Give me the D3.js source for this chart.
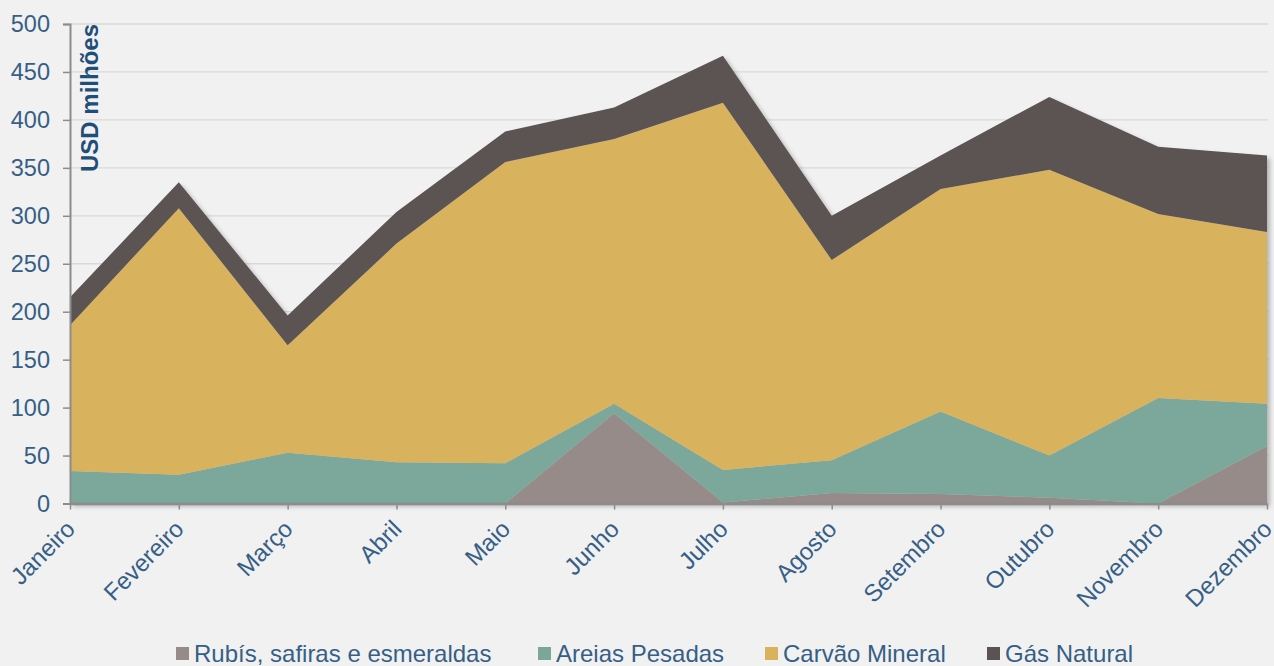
<!DOCTYPE html>
<html><head><meta charset="utf-8">
<script src="https://cdn.jsdelivr.net/npm/d3@7"></script>
<style>
body{margin:0;background:#f1f1f1;}
svg{display:block;font-family:"Liberation Sans",Arial,sans-serif;}
</style></head>
<body><svg id="c" width="1274" height="666"></svg>
<script>
const months = ["Janeiro","Fevereiro","Março","Abril","Maio","Junho","Julho","Agosto","Setembro","Outubro","Novembro","Dezembro"];
const seriesNames = ["Rubís, safiras e esmeraldas","Areias Pesadas","Carvão Mineral","Gás Natural"];
const rubis  = [0, 0, 0, 0, 0, 94, 1, 11, 10, 6, 0, 60];
const areias = [34, 30, 53, 43, 42, 10, 34, 34, 86, 44, 110, 44];
const carvao = [152, 278, 112, 228, 314, 276, 383, 209, 232, 298, 192, 179];
const gas    = [29, 27, 31, 33, 32, 33, 49, 46, 35, 76, 70, 80];
const yTicks = [0,50,100,150,200,250,300,350,400,450,500];
const colors = ["#968b89","#7ba79b","#d8b25c","#5b5253"];
const textColor = "#365f86";

const svg = d3.select("#c");
const mLeft = 70, mRight = 1267, mTop = 24, mBottom = 503.5;
const x = d3.scalePoint().domain(months).range([mLeft, mRight]);
const y = d3.scaleLinear().domain([0,500]).range([mBottom, mTop]);

const rows = months.map((m,i)=>({m, k0:rubis[i], k1:areias[i], k2:carvao[i], k3:gas[i]}));
const stack = d3.stack().keys(["k0","k1","k2","k3"])(rows);

const defs = svg.append("defs");
const f = defs.append("filter").attr("id","sh").attr("x","-5%").attr("y","-5%").attr("width","110%").attr("height","110%");
f.append("feDropShadow").attr("dx",3).attr("dy",3).attr("stdDeviation",2).attr("flood-color","#000").attr("flood-opacity",0.25);

// gridlines
svg.append("g").selectAll("line").data(yTicks.filter(d=>d>0)).join("line")
  .attr("x1",mLeft).attr("x2",1268).attr("y1",d=>y(d)).attr("y2",d=>y(d))
  .attr("stroke","#d9d9d9").attr("stroke-width",1.3);

const area = d3.area().x(d=>x(d.data.m)).y0(d=>y(d[0])).y1(d=>y(d[1]));
svg.append("g").attr("filter","url(#sh)").selectAll("path").data(stack).join("path")
  .attr("d",area).attr("fill",(d,i)=>colors[i]);

// y axis
const ya = svg.append("g").attr("transform",`translate(${mLeft},0)`)
  .call(d3.axisLeft(y).tickValues(yTicks).tickSize(7).tickPadding(13));
ya.select(".domain").attr("stroke","#8c8c8c").attr("stroke-width",2);
ya.selectAll(".tick line").attr("stroke","#8c8c8c").attr("stroke-width",1.5);
ya.selectAll(".tick text").attr("fill",textColor).attr("font-size",23.5).attr("font-family","Liberation Sans, Arial, sans-serif");

// x axis
const xa = svg.append("g").attr("transform",`translate(0,${mBottom})`)
  .call(d3.axisBottom(x).tickSize(6).tickSizeOuter(0));
xa.select(".domain").attr("stroke","#8c8c8c").attr("stroke-width",2.5);
xa.selectAll(".tick line").attr("stroke","#8c8c8c").attr("stroke-width",1.5);
xa.selectAll(".tick text").attr("fill",textColor).attr("font-size",24)
  .attr("font-family","Liberation Sans, Arial, sans-serif")
  .attr("text-anchor","end").attr("y",0).attr("dy",0)
  .attr("transform","translate(6,27) rotate(-45)");

// y label
svg.append("text").attr("transform","translate(98,24) rotate(-90)")
  .attr("text-anchor","end").attr("font-weight","bold").attr("font-size",24)
  .attr("fill","#1f4e79").text("USD milhões");

// legend
const legX = [176, 538, 765, 987];
const lg = svg.append("g").selectAll("g").data(seriesNames).join("g")
  .attr("transform",(d,i)=>`translate(${legX[i]},647)`);
lg.append("rect").attr("width",13).attr("height",13).attr("fill",(d,i)=>colors[i]);
lg.append("text").attr("x",18).attr("y",15).attr("font-size",24).attr("fill",textColor).text(d=>d);
</script></body></html>
